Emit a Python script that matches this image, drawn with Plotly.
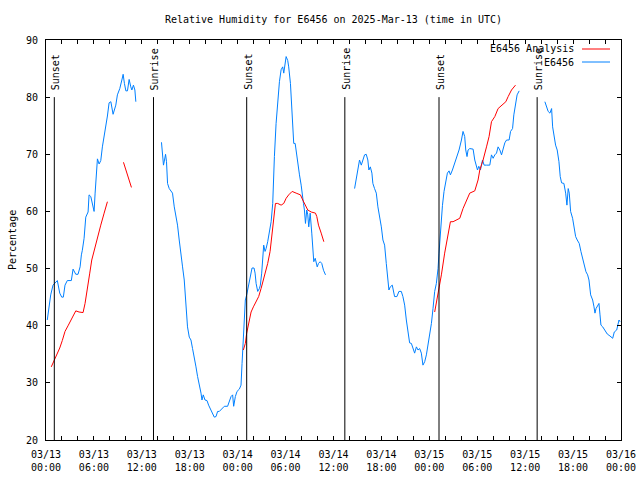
import datetime as dt
import plotly.graph_objects as go

BASE = dt.datetime(2025, 3, 13, 0, 0)

# Observed humidity (hours since 2025-03-13 00:00 UTC, percent); None = gap
obs_hours = [
    0.16, 0.38, 0.59, 0.88, 1.42, 1.72, 1.97, 2.17, 2.38, 2.67, 3.17, 3.39, 3.73, 4.01, 4.27, 4.43,
    4.55, 4.77, 4.98, 5.27, 5.39, 5.61, 5.90, 6.02, 6.15, 6.31, 6.44, 6.65, 6.86, 7.06, 7.49, 7.69,
    7.90, 8.12, 8.40, 8.74, 8.94, 9.24, 9.50, 9.66, 9.82, 10.00, 10.20, 10.41, 10.62, 10.75, 10.95,
    11.13, 11.25, None,
    14.46, 14.59, 14.71, 14.84, 14.97, 15.09, 15.22, 15.43, 15.64, 15.84, 16.06, 16.27, 16.47, 16.68,
    16.90, 17.10, 17.31, 17.52, 17.72, 17.94, 18.15, 18.35, 18.57, 18.78, 18.98, 19.19, 19.41, 19.53,
    19.69, 19.91, 20.16, 20.36, 20.66, 20.86, 21.07, 21.29, 21.49, 21.70, 22.04, 22.33, 22.74, 22.96,
    23.17, 23.37, 23.50, 23.71, 23.92, 24.21, 24.42, 24.55, 24.71, 24.84, 24.96, 25.13, 25.34, 25.46,
    25.68, 25.80, 26.05, 26.18, 26.31, 26.51, 26.72, 26.84, 27.01, 27.13, 27.26, 27.43, 27.56, 27.76,
    27.97, 28.19, 28.39, 28.48, 28.60, 28.81, 29.01, 29.23, 29.44, 29.64, 29.77, 29.94, 30.07, 30.27,
    30.39, 30.61, 30.77, 30.90, 31.02, 31.20, 31.32, 31.52, 31.74, 31.95, 32.08, 32.24, 32.36, 32.49,
    32.65, 32.78, 32.90, 33.08, 33.28, 33.40, 33.53, 33.71, 33.83, 33.96, 34.12, 34.33, 34.53, 34.75,
    35.00, None,
    38.64, 38.85, 39.05, 39.14, 39.26, 39.48, 39.68, 39.89, 40.10, 40.30, 40.43, 40.61, 40.81, 40.93,
    41.14, 41.36, 41.56, 41.77, 41.99, 42.19, 42.40, 42.61, 42.81, 42.94, 43.11, 43.36, 43.65, 43.94,
    44.19, 44.49, 44.69, 44.91, 45.12, 45.32, 45.53, 45.75, 45.95, 46.16, 46.38, 46.58, 46.79, 47.00,
    47.20, 47.42, 47.63, 47.83, 48.04, 48.26, 48.46, 48.67, 48.88, 49.09, 49.21, 49.39, 49.64, 49.84,
    50.05, 50.26, 50.47, 50.64, 50.89, 51.18, 51.47, 51.72, 52.02, 52.22, 52.43, 52.56, 52.72, 52.85,
    53.06, 53.48, 53.69, 53.90, 54.03, 54.19, 54.40, 54.66, 54.86, 55.16, 55.57, 55.78, 55.99, 56.20,
    56.41, 56.61, 56.83, 57.04, 57.24, 57.45, 57.67, 57.99, 58.17, 58.42, 58.58, 58.75, 58.99, 59.25,
    None,
    62.47, 62.68, 62.88, 63.10, 63.31, 63.44, 63.60, 63.81, 64.01, 64.23, 64.39, 64.56, 64.85, 65.07,
    65.23, 65.39, 65.52, 65.69, 65.94, 66.15, 66.32, 66.52, 66.77, 66.98, 67.20, 67.40, 67.61, 67.82,
    67.99, 68.20, 68.45, 68.62, 68.74, 68.87, 69.08, 69.24, 69.37, 69.49, 69.71, 70.00, 70.28, 70.62,
    70.96, 71.16, 71.46, 71.75, 71.88,
]
obs_values = [
    41.0, 43.3, 45.4, 47.1, 47.9, 45.7, 45.0, 45.0, 47.1, 47.9, 47.9, 49.9, 49.0, 49.0, 50.3, 52.4,
    53.2, 55.3, 59.0, 59.9, 62.9, 62.6, 60.8, 60.0, 63.2, 67.8, 69.2, 68.3, 68.9, 71.3, 74.8, 76.7,
    79.0, 79.2, 77.0, 78.6, 80.4, 81.5, 83.0, 84.0, 82.4, 81.1, 81.1, 83.1, 81.8, 81.25, 82.1,
    81.25, 79.2, None,
    72.1, 69.6, 68.1, 69.0, 70.0, 68.7, 64.9, 64.0, 63.6, 63.2, 60.8, 59.2, 57.6, 55.0,
    52.1, 50.3, 48.0, 43.3, 39.8, 38.0, 37.5, 36.0, 34.6, 32.8, 31.1, 29.9, 28.2, 27.0,
    27.9, 27.0, 26.9, 26.1, 25.2, 24.4, 24.0, 24.1, 25.0, 25.0, 25.5, 25.9, 25.9, 26.9,
    27.6, 27.9, 25.9, 27.6, 28.5, 28.9, 29.6, 33.4, 38.7, 41.9, 44.5, 45.4, 46.8, 48.0,
    49.2, 50.1, 50.1, 49.2, 47.4, 46.0, 46.5, 47.1, 49.2, 52.7, 54.1, 53.0, 53.5, 54.7,
    56.2, 58.2, 61.4, 66.7, 69.6, 75.4, 79.8, 82.7, 84.8, 85.3, 84.2, 86.2, 87.1, 86.4,
    85.3, 82.4, 77.2, 74.25, 71.9, 71.9, 70.5, 68.1, 66.4, 64.6, 63.5, 61.4, 60.25, 57.9,
    60.25, 59.4, 57.3, 59.7, 56.2, 52.4, 51.2, 51.8, 51.2, 50.3, 50.9, 51.2, 50.9, 49.7,
    48.9, None,
    64.0, 65.8, 67.0, 68.4, 69.0, 68.1, 69.0, 69.9, 70.0, 69.0, 67.25, 67.8, 66.7, 64.9,
    64.0, 63.2, 60.8, 59.4, 57.3, 55.0, 54.1, 50.9, 47.1, 46.25, 46.8, 47.1, 45.1, 45.1,
    46.0, 46.0, 45.1, 43.6, 41.0, 38.9, 37.0, 36.9, 36.0, 35.2, 36.3, 35.75, 36.0, 35.2,
    33.1, 33.7, 34.9, 36.6, 38.1, 40.4, 43.0, 46.0, 47.4, 50.0, 52.7, 57.0, 61.0, 63.5,
    65.5, 66.7, 67.1, 66.4, 67.25, 68.4, 69.9, 70.75, 72.5, 74.0, 73.1, 70.75, 69.6, 70.75,
    71.0, 70.9, 69.0, 67.8, 67.25, 67.9, 67.25, 69.0, 68.1, 68.1, 68.1, 69.9, 69.3, 69.9,
    70.2, 71.3, 70.75, 69.9, 70.75, 72.0, 72.5, 72.5, 74.0, 74.5, 76.9, 78.3, 80.4, 81.1,
    None,
    79.2, 78.3, 77.5, 77.2, 78.0, 74.8, 73.1, 71.6, 70.75, 68.7, 66.1, 65.0, 64.9, 63.2,
    61.1, 64.0, 63.2, 60.0, 58.8, 57.1, 55.6, 55.0, 54.4, 53.0, 51.8, 50.6, 49.45, 48.9,
    48.0, 45.4, 44.5, 43.3, 42.2, 43.0, 43.6, 43.9, 41.9, 40.1, 39.8, 39.25, 38.55, 38.2,
    37.8, 38.9, 39.25, 41.0, 40.7,
]

# Analysis humidity
ana_hours = [
    0.66, 1.00, 1.42, 1.72, 2.04, 2.38, 2.80, 3.22, 3.73, 4.14, 4.64, 4.89, 5.18, 5.48, 5.73, 6.02,
    6.44, 6.86, 7.28, 7.69, None, 9.70, 10.70, None,
    24.71, 24.96, 25.13, 25.38, 25.68, 25.97, 26.31, 26.63, 26.93, 27.35, 27.76, 28.06, 28.31, 28.51,
    28.73, 29.01, 29.44, 29.77, 30.07, 30.39, 30.82, 31.32, 31.86, 32.15, 32.45, 32.78, 33.21, 33.74,
    33.91, 34.12, 34.46, 34.79, None,
    48.67, 49.09, 49.51, 49.92, 50.34, 50.64, 50.97, 51.39, 51.81, 52.22, 52.65, 53.06, 53.69, 54.10,
    54.32, 54.73, 55.16, 55.48, 55.78, 56.20, 56.61, 57.04, 57.58, 57.87, 58.29, 58.79,
]
ana_values = [
    32.8, 33.8, 35.0, 36.1, 37.4, 39.0, 40.1, 41.3, 42.6, 42.4, 42.3, 43.9, 46.9, 49.2, 51.5, 53.2,
    55.6, 57.6, 59.7, 61.7, None, 68.6, 64.2, None,
    35.75, 36.9, 38.7, 40.7, 42.4, 43.3, 44.2, 45.1, 46.5, 48.6, 50.9, 53.0, 55.9, 59.1,
    61.4, 61.4, 61.1, 61.4, 62.3, 62.9, 63.5, 63.2, 62.9, 62.0, 61.1, 60.25, 59.9, 59.7,
    59.1, 57.6, 56.2, 54.7, None,
    42.4, 45.4, 48.9, 52.7, 55.8, 58.2, 58.2, 58.5, 58.8, 60.5, 62.0, 63.2, 63.6, 65.5,
    67.25, 69.0, 71.3, 73.1, 75.7, 76.6, 78.0, 78.6, 79.2, 80.1, 81.25, 82.1,
]

sun_hours = [1.04, 13.46, 25.13, 37.42, 49.21, 61.50]
sun_labels = ["Sunset", "Sunrise", "Sunset", "Sunrise", "Sunset", "Sunrise"]

tick_hours = list(range(0, 73, 6))
tick_labels = ["03/13<br>00:00", "03/13<br>06:00", "03/13<br>12:00", "03/13<br>18:00",
               "03/14<br>00:00", "03/14<br>06:00", "03/14<br>12:00", "03/14<br>18:00",
               "03/15<br>00:00", "03/15<br>06:00", "03/15<br>12:00", "03/15<br>18:00",
               "03/16<br>00:00"]
y_ticks = [20, 30, 40, 50, 60, 70, 80, 90]


def to_time(h):
    return None if h is None else BASE + dt.timedelta(hours=h)


FONT = "DejaVu Sans Mono"
FS = 10
RED = "#ff0000"
BLUE = "#0080ff"

FIG_W, FIG_H = 640, 480
L, R, T, B = 46, 621, 40, 440          # pixel box of the plot area
W, H = R - L, B - T


def px_x(px):
    return (px - L) / W


def px_y(py):
    return 1 - (py - T) / H


fig = go.Figure()
fig.add_trace(go.Scatter(x=[to_time(h) for h in obs_hours], y=obs_values, mode="lines",
                         line=dict(color=BLUE, width=1), name="E6456", connectgaps=False))
fig.add_trace(go.Scatter(x=[to_time(h) for h in ana_hours], y=ana_values, mode="lines",
                         line=dict(color=RED, width=1), name="E6456 Analysis", connectgaps=False))

for h, lab in zip(sun_hours, sun_labels):
    t = to_time(h)
    fig.add_shape(type="line", xref="x", yref="y", x0=t, x1=t, y0=20, y1=80,
                  line=dict(color="black", width=1))
    fig.add_annotation(x=t, y=80.9, xref="x", yref="y", text=lab, textangle=-90,
                       showarrow=False, xanchor="center", yanchor="bottom", xshift=1,
                       font=dict(family=FONT, size=FS, color="black"))

for i, (name, col) in enumerate([("E6456 Analysis", RED), ("E6456", BLUE)]):
    yy = 49 + i * 13
    fig.add_annotation(x=px_x(576), y=px_y(yy), xref="paper", yref="paper", text=name,
                       showarrow=False, xanchor="right", yanchor="middle",
                       font=dict(family=FONT, size=FS, color="black"))
    fig.add_shape(type="line", xref="paper", yref="paper", x0=px_x(582), x1=px_x(610),
                  y0=px_y(yy), y1=px_y(yy), line=dict(color=col, width=1))

fig.add_annotation(x=px_x(12), y=0.5, xref="paper", yref="paper", text="Percentage",
                   textangle=-90, showarrow=False, xanchor="center", yanchor="middle",
                   font=dict(family=FONT, size=FS, color="black"))

fig.update_layout(
    width=FIG_W, height=FIG_H,
    margin=dict(l=L, r=FIG_W - R, t=T, b=FIG_H - B, autoexpand=False),
    paper_bgcolor="white", plot_bgcolor="white",
    showlegend=False,
    font=dict(family=FONT, size=FS, color="black"),
    title=dict(text="Relative Humidity for E6456 on 2025-Mar-13 (time in UTC)",
               x=0.5, xref="paper", xanchor="center", y=1 - 19 / FIG_H, yref="container",
               yanchor="middle", automargin=False,
               font=dict(family=FONT, size=FS, color="black")),
)
fig.update_xaxes(
    range=[to_time(0), to_time(72)], automargin=False,
    tickvals=[to_time(h) for h in tick_hours], ticktext=tick_labels,
    ticks="inside", ticklen=4, tickcolor="black", ticklabelstandoff=5,
    ticklabeloverflow="allow",
    minor=dict(dtick=2 * 3600 * 1000, tick0=to_time(0), ticks="inside", ticklen=4,
               tickcolor="black", showgrid=False),
    showline=True, linecolor="black", linewidth=1, mirror="ticks",
    showgrid=False, zeroline=False, tickfont=dict(family=FONT, size=FS),
)
fig.update_yaxes(
    range=[20, 90], tickvals=y_ticks, automargin=False,
    ticks="inside", ticklen=4, tickcolor="black", ticklabelstandoff=5,
    showline=True, linecolor="black", linewidth=1, mirror="ticks",
    showgrid=False, zeroline=False, tickfont=dict(family=FONT, size=FS),
)

fig.write_html("out.html", config={"displayModeBar": False},
               post_script="document.body.style.margin='0';document.body.style.overflow='hidden';")
